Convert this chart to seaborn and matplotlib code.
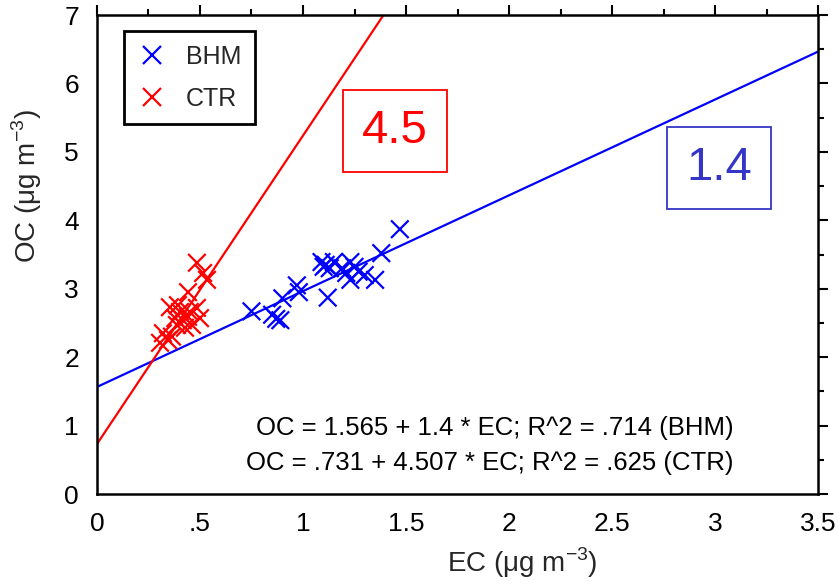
import matplotlib
matplotlib.use("Agg")
import matplotlib.pyplot as plt
from matplotlib.ticker import MultipleLocator, FuncFormatter
import numpy as np
import pandas as pd
import seaborn as sns

# BHM site samples
bhm_ec = [0.75, 0.85, 0.87, 0.89, 0.90, 0.97, 0.98, 1.09, 1.10, 1.11, 1.12, 1.13,
          1.15, 1.19, 1.21, 1.23, 1.23, 1.25, 1.27, 1.30, 1.35, 1.38, 1.47]
bhm_oc = [2.67, 2.62, 2.56, 2.54, 2.86, 3.05, 2.95, 3.39, 3.32, 3.35, 2.87, 3.30,
          3.39, 3.30, 3.23, 3.39, 3.13, 3.32, 3.25, 3.20, 3.13, 3.52, 3.87]

# CTR site samples
ctr_ec = [0.485, 0.515, 0.534, 0.442, 0.354, 0.485, 0.403, 0.32, 0.364, 0.417,
          0.442, 0.388, 0.461, 0.50, 0.45, 0.38, 0.345, 0.427, 0.306, 0.393]
ctr_oc = [3.38, 3.23, 3.13, 2.95, 2.73, 2.72, 2.66, 2.35, 2.30, 2.54,
          2.59, 2.47, 2.47, 2.57, 2.66, 2.57, 2.25, 2.43, 2.21, 2.76]

# Regression fits (intercept, slope, R^2)
bhm_fit = (1.565, 1.4, ".714")
ctr_fit = (0.731, 4.507, ".625")
slope_labels = ["1.4", "4.5"]

sites = ["BHM", "CTR"]
colors = {"BHM": "#0000ff", "CTR": "#ff0000"}

df = pd.DataFrame({
    "EC": bhm_ec + ctr_ec,
    "OC": bhm_oc + ctr_oc,
    "site": ["BHM"] * len(bhm_ec) + ["CTR"] * len(ctr_ec),
})

sns.set_theme(style="white")
plt.rcParams["font.family"] = ["Liberation Sans", "DejaVu Sans"]
plt.rcParams["mathtext.fontset"] = "custom"
plt.rcParams["mathtext.rm"] = "Liberation Sans"

fig = plt.figure(figsize=(8.39, 5.87), dpi=100)
ax = fig.add_axes([0.1156, 0.1584, 0.975 - 0.1156, 0.9744 - 0.1584])

x_range = np.array([0.0, 3.5])
line_df = pd.DataFrame({
    "EC": np.concatenate([x_range, x_range]),
    "OC": np.concatenate([bhm_fit[0] + bhm_fit[1] * x_range,
                          ctr_fit[0] + ctr_fit[1] * x_range]),
    "site": ["BHM", "BHM", "CTR", "CTR"],
})
sns.lineplot(data=line_df, x="EC", y="OC", hue="site", palette=colors,
             linewidth=1.6, legend=False, ax=ax, zorder=2)

sns.scatterplot(data=df, x="EC", y="OC", hue="site", palette=colors,
                marker="x", s=160, linewidth=1.6, ax=ax, zorder=3)

ax.set_xlim(0, 3.5)
ax.set_ylim(0, 7)

ax.xaxis.set_major_locator(MultipleLocator(0.5))
ax.xaxis.set_minor_locator(MultipleLocator(0.25))
ax.yaxis.set_major_locator(MultipleLocator(1))
ax.yaxis.set_minor_locator(MultipleLocator(0.5))


def fmt_x(v, pos):
    s = f"{v:g}"
    if s.startswith("0."):
        s = s[1:]
    return s


ax.xaxis.set_major_formatter(FuncFormatter(fmt_x))
ax.tick_params(which="both", direction="out", top=True, right=True,
               labeltop=False, labelright=False, color="black", width=1.5,
               labelsize=19, labelcolor="black")
ax.tick_params(which="major", length=7, pad=6)
ax.tick_params(which="minor", length=4)

for sp in ax.spines.values():
    sp.set_color("black")
    sp.set_linewidth(1.8)

ax.set_xlabel("EC (\u03bcg m$^{-3}$)", fontsize=20)
ax.xaxis.set_label_coords(0.59, -0.108, transform=ax.transAxes)
ax.xaxis.label.set_va("top")
ax.set_ylabel("OC (\u03bcg m$^{-3}$)", fontsize=20)
ax.yaxis.set_label_coords(-0.074, 0.643)

leg = ax.legend(title=None, loc="upper left", bbox_to_anchor=(0.037, 0.967),
                fontsize=18, frameon=True, fancybox=False, borderpad=0.55,
                handlelength=1.2, handletextpad=0.75, labelspacing=0.72,
                borderaxespad=0.0, markerscale=1.0)
leg.get_frame().set_edgecolor("black")
leg.get_frame().set_linewidth(2)
leg.get_frame().set_alpha(1)

ax.text(1.447, 5.31, slope_labels[1], fontsize=34, color="#ff0000",
        ha="center", va="center",
        bbox=dict(boxstyle="square,pad=0.4", facecolor="white",
                  edgecolor="#ff0000", linewidth=1.3))
ax.text(3.02, 4.77, slope_labels[0], fontsize=34, color="#3535c8",
        ha="center", va="center",
        bbox=dict(boxstyle="square,pad=0.4", facecolor="white",
                  edgecolor="#3535c8", linewidth=1.3))

eq1 = f"OC = {bhm_fit[0]:g} + {bhm_fit[1]:g} * EC; R^2 = {bhm_fit[2]} (BHM)"
eq2 = f"OC = {str(ctr_fit[0]).lstrip('0')} + {ctr_fit[1]:g} * EC; R^2 = {ctr_fit[2]} (CTR)"
ax.text(3.09, 0.97, eq1, fontsize=18.5, ha="right", va="center", color="black")
ax.text(3.09, 0.45, eq2, fontsize=18.5, ha="right", va="center", color="black")

fig.savefig("out.png", dpi=100)
